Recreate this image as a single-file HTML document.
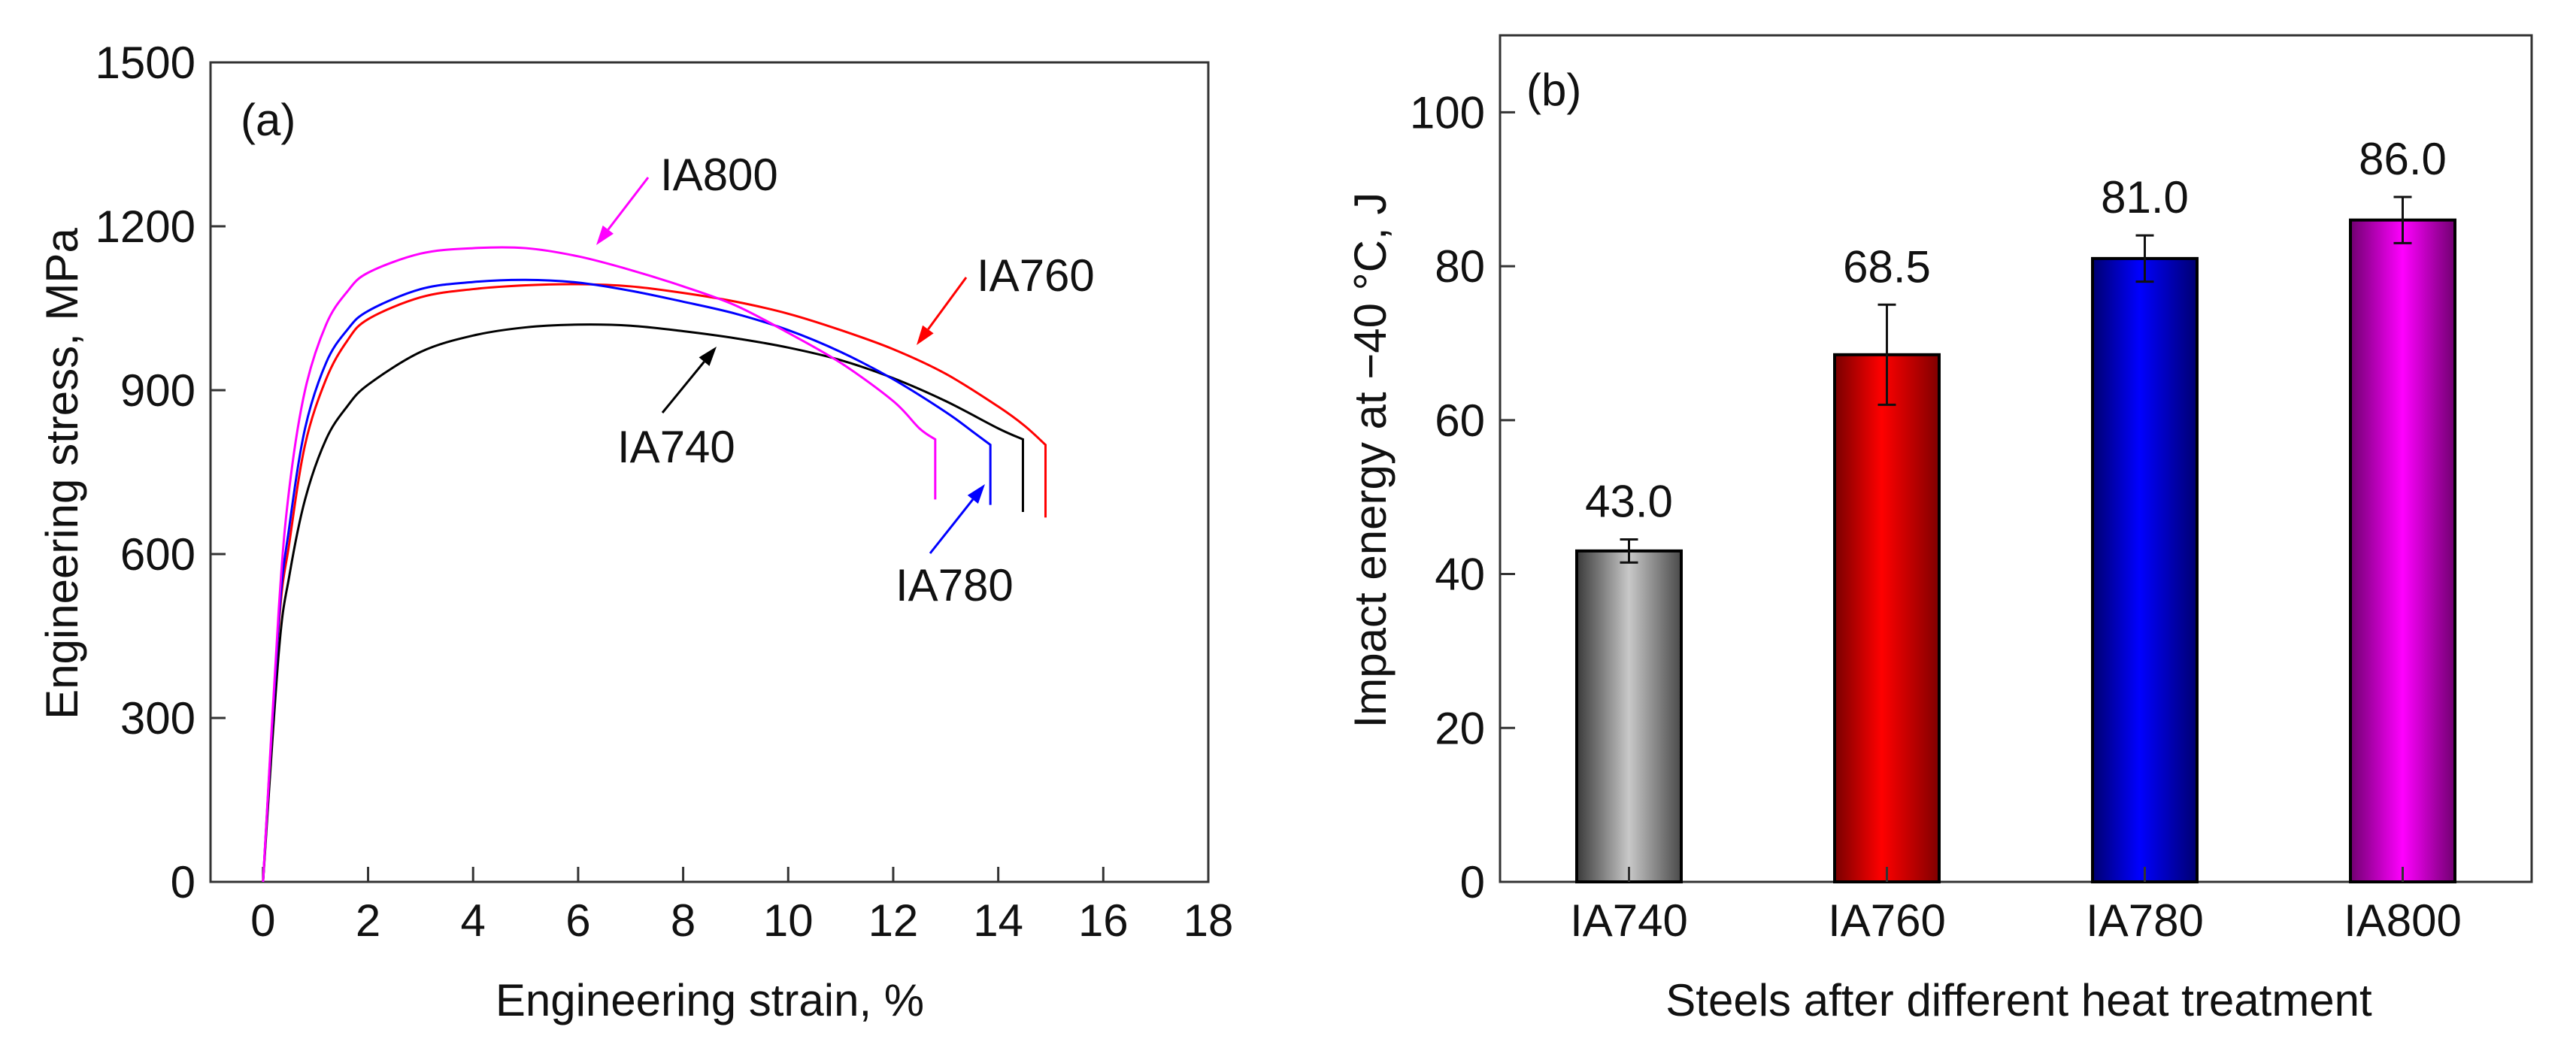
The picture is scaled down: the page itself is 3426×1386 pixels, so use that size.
<!DOCTYPE html>
<html><head><meta charset="utf-8"><style>
html,body{margin:0;padding:0;background:#fff}
svg{display:block}
text{font-family:"Liberation Sans",sans-serif;fill:#111}
</style></head><body>
<svg id="fig" width="3426" height="1386" viewBox="0 0 3426 1386" xmlns="http://www.w3.org/2000/svg">
<defs>
<linearGradient id="gGray" x1="0" x2="1" y1="0" y2="0"><stop offset="0" stop-color="#3a3a3a"/><stop offset="0.5" stop-color="#c8c8c8"/><stop offset="1" stop-color="#4a4a4a"/></linearGradient>
<linearGradient id="gRed" x1="0" x2="1" y1="0" y2="0"><stop offset="0" stop-color="#780000"/><stop offset="0.45" stop-color="#ff0000"/><stop offset="1" stop-color="#800000"/></linearGradient>
<linearGradient id="gBlue" x1="0" x2="1" y1="0" y2="0"><stop offset="0" stop-color="#000070"/><stop offset="0.45" stop-color="#0000ff"/><stop offset="1" stop-color="#000070"/></linearGradient>
<linearGradient id="gMag" x1="0" x2="1" y1="0" y2="0"><stop offset="0" stop-color="#700070"/><stop offset="0.5" stop-color="#ff00ff"/><stop offset="1" stop-color="#700070"/></linearGradient>
</defs>
<g id="left"></g>
<g id="right"></g>
</svg>
<script>
const NS="http://www.w3.org/2000/svg";
// ---- Panel (a) data ----
const xTicksA=[0,2,4,6,8,10,12,14,16,18];
const yTicksA=[0,300,600,900,1200,1500];
const seriesNames=["IA740","IA760","IA780","IA800"];
const seriesColors=["#000000","#ff0000","#0000ff","#ff00ff"];
const strainIA740=[0,0.3,0.5,0.8,1.2,1.6,2,3,4,5,6,7,8,9,10,11,12,13,14,14.47,14.47];
const stressIA740=[0,420,560,700,810,870,910,970,1000,1015,1020,1018,1008,995,978,955,922,880,830,810,677];
const strainIA760=[0,0.3,0.5,0.8,1.2,1.6,2,3,4,5,6,7,8,9,10,11,12,13,14,14.5,14.9,14.9];
const stressIA760=[0,470,620,800,920,990,1030,1070,1085,1092,1094,1090,1078,1062,1040,1010,975,930,870,835,800,667];
const strainIA780=[0,0.3,0.5,0.8,1.2,1.6,2,3,4,5,6,7,8,9,10,11,12,13,13.5,13.85,13.85];
const stressIA780=[0,480,650,830,950,1010,1045,1085,1098,1102,1097,1082,1062,1040,1010,970,920,860,825,800,690];
const strainIA800=[0,0.3,0.5,0.8,1.2,1.6,2,3,4,5,6,7,8,9,10,11,12,12.5,12.8,12.8];
const stressIA800=[0,500,720,900,1020,1080,1115,1150,1160,1160,1145,1120,1090,1055,1005,950,880,830,810,700];
// ---- Panel (b) data ----
const categories=["IA740","IA760","IA780","IA800"];
const energies=[43.0,68.5,81.0,86.0];
const energyErr=[1.5,6.5,3.0,3.0];
const energyLabels=["43.0","68.5","81.0","86.0"];
const yTicksB=[0,20,40,60,80,100];

function el(tag,attrs,parent){const e=document.createElementNS(NS,tag);for(const k in attrs)e.setAttribute(k,attrs[k]);parent.appendChild(e);return e;}

// ===== Panel A =====
const A=document.getElementById('left');
const aL=280,aR=1607,aT=83,aB=1173;
const ax=v=>aL+(v+1)/19*(aR-aL);
const ay=v=>aB-v/1500*(aB-aT);
let f=el('rect',{x:aL,y:aT,width:aR-aL,height:aB-aT,fill:'none',stroke:'#333','stroke-width':3},A);

xTicksA.forEach(t=>{
  let l=el('line',{x1:ax(t),x2:ax(t),y1:aB,y2:aB-20,stroke:'#333','stroke-width':3},A);
  
  let tx=el('text',{x:ax(t),y:1245,'font-size':60,'text-anchor':'middle'},A);tx.textContent=t;
  
});
yTicksA.forEach(t=>{
  let l=el('line',{x1:aL,x2:aL+20,y1:ay(t),y2:ay(t),stroke:'#333','stroke-width':3},A);
  
  let tx=el('text',{x:aL-20,y:ay(t)+21,'font-size':60,'text-anchor':'end'},A);tx.textContent=t;
  
});
function smoothPath(xs,ys){
  const all=xs.map((x,i)=>[ax(x),ay(ys[i])]);
  const p=all.slice(0,all.length-1);
  const last=all[all.length-1];
  let d='M'+p[0][0]+','+p[0][1];
  for(let i=0;i<p.length-1;i++){
    const p0=p[Math.max(0,i-1)],p1=p[i],p2=p[i+1],p3=p[Math.min(p.length-1,i+2)];
    const c1=[p1[0]+(p2[0]-p0[0])/6,p1[1]+(p2[1]-p0[1])/6];
    const c2=[p2[0]-(p3[0]-p1[0])/6,p2[1]-(p3[1]-p1[1])/6];
    d+=' C'+c1+' '+c2+' '+p2[0]+','+p2[1];
  }
  d+=' L'+last[0]+','+last[1];
  return d;
}
const sx=[strainIA740,strainIA760,strainIA780,strainIA800];
const sy=[stressIA740,stressIA760,stressIA780,stressIA800];
for(let i=0;i<4;i++){
  let p=el('path',{d:smoothPath(sx[i],sy[i]),fill:'none',stroke:seriesColors[i],'stroke-width':3},A);
  
}
function arrow(x1,y1,x2,y2,c,name){
  const g=el('g',{},A);
  const ang=Math.atan2(y2-y1,x2-x1),L=26,W=9;
  const bx=x2-L*Math.cos(ang),by=y2-L*Math.sin(ang);
  el('line',{x1,y1,x2:bx,y2:by,stroke:c,'stroke-width':3},g);
  el('polygon',{points:`${x2},${y2} ${bx-W*Math.sin(ang)},${by+W*Math.cos(ang)} ${bx+W*Math.sin(ang)},${by-W*Math.cos(ang)}`,fill:c},g);
}
function label(x,y,s,c,name,parent,anchor){
  let t=el('text',{x,y,'font-size':60,fill:c,'text-anchor':anchor||'start'},parent);t.textContent=s;
  return t;
}
label(320,180,'(a)','#111','panel-label-a',A);
label(878,253,'IA800','#ff00ff','label-ia800',A);arrow(862,236,793,326,'#ff00ff','arrow-ia800');
label(1299,387,'IA760','#ff0000','label-ia760',A);arrow(1285,369,1219,459,'#ff0000','arrow-ia760');
label(821,615,'IA740','#111','label-ia740',A);arrow(881,549,953,461,'#000','arrow-ia740');
label(1191,799,'IA780','#0000ff','label-ia780',A);arrow(1237,736,1310,644,'#0000ff','arrow-ia780');
label(944,1351,'Engineering strain, %','#111','x-axis-title-a',A,'middle');
let yt=label(0,0,'Engineering stress, MPa','#111','y-axis-title-a',A,'middle');yt.setAttribute('transform','translate(103,630) rotate(-90)');

// ===== Panel B =====
const B=document.getElementById('right');
const bL=1995,bR=3367,bT=47,bB=1173;
const by=v=>bB-v/110*(bB-bT);
const bx=i=>bL+(i+0.5)*(bR-bL)/4;
const bw=139;
let fb=el('rect',{x:bL,y:bT,width:bR-bL,height:bB-bT,fill:'none',stroke:'#333','stroke-width':3},B);

const grads=['url(#gGray)','url(#gRed)','url(#gBlue)','url(#gMag)'];
energies.forEach((v,i)=>{
  let r=el('rect',{x:bx(i)-bw/2,y:by(v),width:bw,height:bB-by(v),fill:grads[i],stroke:'#000','stroke-width':4},B);
  
  const eg=el('g',{stroke:'#111','stroke-width':3},B);
  
  el('line',{x1:bx(i),x2:bx(i),y1:by(v+energyErr[i]),y2:by(v-energyErr[i])},eg);
  el('line',{x1:bx(i)-12,x2:bx(i)+12,y1:by(v+energyErr[i]),y2:by(v+energyErr[i])},eg);
  el('line',{x1:bx(i)-12,x2:bx(i)+12,y1:by(v-energyErr[i]),y2:by(v-energyErr[i])},eg);
  label(bx(i),by(v+energyErr[i])-30,energyLabels[i],'#111','value-label-'+categories[i].toLowerCase(),B,'middle');
  let tk=el('line',{x1:bx(i),x2:bx(i),y1:bB,y2:bB-20,stroke:'#333','stroke-width':3},B);
  
  label(bx(i),1245,categories[i],'#111','category-label',B,'middle');
});
yTicksB.forEach(t=>{
  let l=el('line',{x1:bL,x2:bL+20,y1:by(t),y2:by(t),stroke:'#333','stroke-width':3},B);
  
  label(bL-20,by(t)+21,String(t),'#111','y-tick-label',B,'end');
});
label(2030,140,'(b)','#111','panel-label-b',B);
label(2685,1351,'Steels after different heat treatment','#111','x-axis-title-b',B,'middle');
let yt2=label(0,0,'Impact energy at \u221240 \u00B0C, J','#111','y-axis-title-b',B,'middle');yt2.setAttribute('transform','translate(1843,612) rotate(-90)');
</script>
</body></html>
